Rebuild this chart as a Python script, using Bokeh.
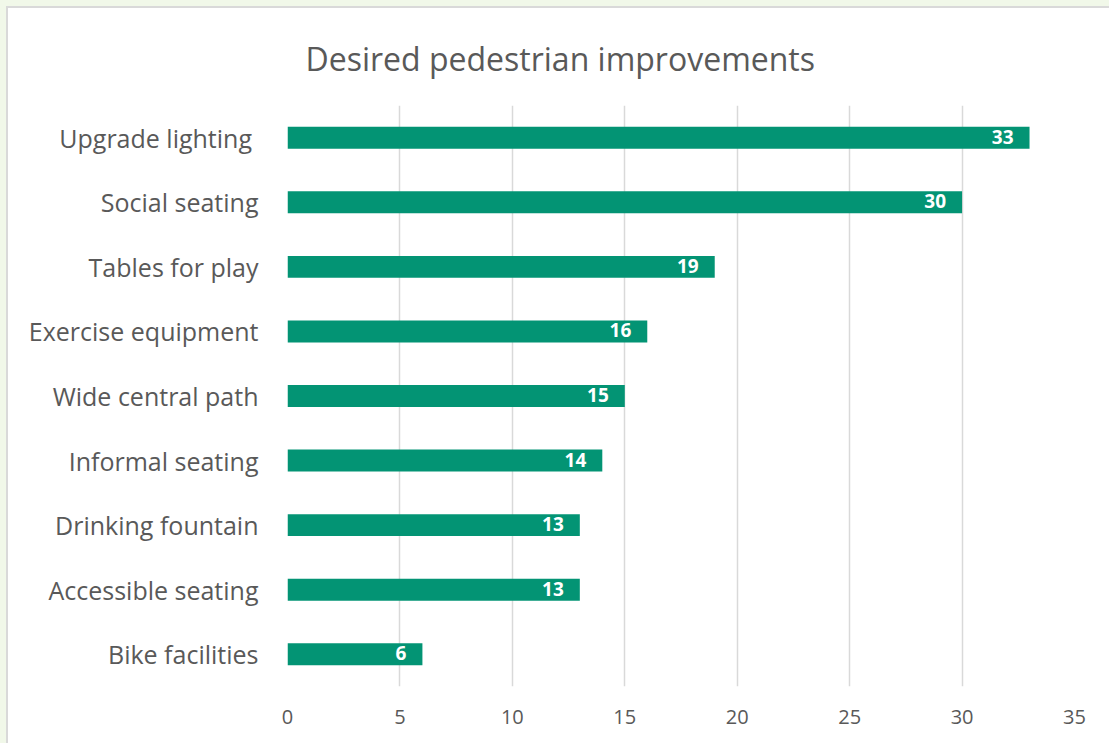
from bokeh.plotting import figure
from bokeh.models import ColumnDataSource, FactorRange, LabelSet, Title
from bokeh.embed import file_html
from bokeh.resources import INLINE
from bokeh.core.properties import value

categories = ["Upgrade lighting ", "Social seating", "Tables for play", "Exercise equipment",
              "Wide central path", "Informal seating", "Drinking fountain",
              "Accessible seating", "Bike facilities"]
values = [33, 30, 19, 16, 15, 14, 13, 13, 6]
x_ticks = [0, 5, 10, 15, 20, 25, 30, 35]

FONT = "Open Sans"
GREY = "#595959"
BAR = "#039474"

src = ColumnDataSource(dict(cat=categories, val=values, lab=[str(v) for v in values]))

p = figure(width=1101, height=735, output_backend="svg", toolbar_location=None,
           y_range=FactorRange(*reversed(categories)), x_range=(0, 35))
p.min_border_left = 279
p.min_border_right = 35
p.min_border_top = 97
p.min_border_bottom = 57
p.outline_line_color = None
p.background_fill_color = "white"
p.border_fill_color = "white"
p.styles = {"margin-left": "8px", "margin-top": "8px",
            "box-shadow": "0 0 0 2px #d9d9d9, 0 0 0 8px #f1f8e9"}

p.hbar(y="cat", right="val", left=0, height=0.34, source=src, fill_color=BAR, line_color=None)

labels = LabelSet(x="val", y="cat", text="lab", source=src, text_align="right",
                  text_baseline="middle", x_offset=-16, y_offset=1, text_color="white",
                  text_font=value(FONT), text_font_style="bold", text_font_size="19px")
p.add_layout(labels)

p.xaxis.ticker = x_ticks
p.xgrid.ticker = x_ticks
p.xgrid.grid_line_color = "#d9d9d9"
p.xgrid.grid_line_width = 1.5
p.ygrid.grid_line_color = None

for ax in (p.xaxis[0], p.yaxis[0]):
    ax.axis_line_color = None
    ax.major_tick_line_color = None
    ax.minor_tick_line_color = None
    ax.major_label_text_color = GREY
    ax.major_label_text_font = FONT
p.xaxis.major_label_text_font_size = "20px"
p.xaxis.major_label_standoff = 17
p.yaxis.major_label_text_font_size = "25px"
p.yaxis.major_label_standoff = 23

title = Title(text="Desired pedestrian improvements", align="left", offset=18,
              standoff=52, text_color=GREY, text_font=FONT, text_font_style="normal",
              text_font_size="32px")
p.add_layout(title, "above")

open("out.html", "w").write(file_html(p, INLINE))
